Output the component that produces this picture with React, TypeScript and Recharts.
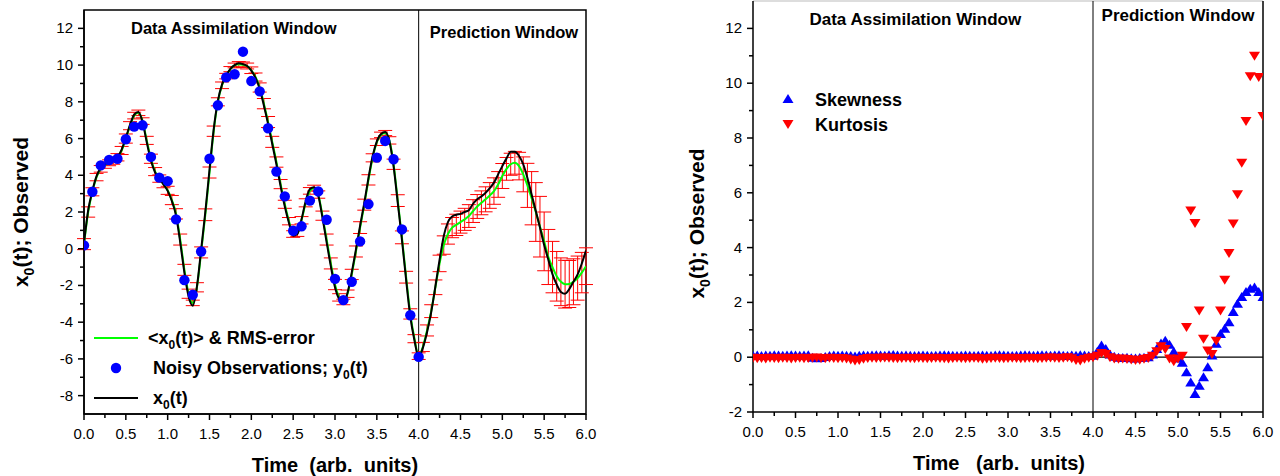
import {
  ComposedChart,
  Line,
  Scatter,
  XAxis,
  YAxis,
  ErrorBar,
  ReferenceLine,
  ReferenceArea,
  ReferenceDot,
  Legend,
} from "recharts"

const FONT = "'Liberation Sans', Arial, Helvetica, sans-serif"

// time grid (arb. units), one point every 0.05
const times = [
  0, 0.05, 0.1, 0.15, 0.2, 0.25, 0.3, 0.35, 0.4, 0.45, 0.5, 0.55, 0.6, 0.65, 0.7, 0.75, 0.8, 0.85, 0.9, 0.95,
  1, 1.05, 1.1, 1.15, 1.2, 1.25, 1.3, 1.35, 1.4, 1.45, 1.5, 1.55, 1.6, 1.65, 1.7, 1.75, 1.8, 1.85, 1.9, 1.95,
  2, 2.05, 2.1, 2.15, 2.2, 2.25, 2.3, 2.35, 2.4, 2.45, 2.5, 2.55, 2.6, 2.65, 2.7, 2.75, 2.8, 2.85, 2.9, 2.95,
  3, 3.05, 3.1, 3.15, 3.2, 3.25, 3.3, 3.35, 3.4, 3.45, 3.5, 3.55, 3.6, 3.65, 3.7, 3.75, 3.8, 3.85, 3.9, 3.95,
  4, 4.05, 4.1, 4.15, 4.2, 4.25, 4.3, 4.35, 4.4, 4.45, 4.5, 4.55, 4.6, 4.65, 4.7, 4.75, 4.8, 4.85, 4.9, 4.95,
  5, 5.05, 5.1, 5.15, 5.2, 5.25, 5.3, 5.35, 5.4, 5.45, 5.5, 5.55, 5.6, 5.65, 5.7, 5.75, 5.8, 5.85, 5.9, 5.95,
  6,
]

// true state x0(t)
const truthX0 = [
  0.3, 2.1, 3.15, 3.95, 4.4, 4.6, 4.7, 4.8, 5.0, 5.4, 6.05, 6.75, 7.3, 7.45, 6.9, 5.8, 4.8, 4.15, 3.8, 3.5,
  3.15, 2.6, 1.8, 0.35, -1.3, -2.6, -3.1, -2.05, -0.05, 2.0, 4.3, 6.5, 8.05, 8.95, 9.45, 9.8, 10.0, 10.1, 10.05, 9.95,
  9.7, 9.3, 8.7, 7.8, 6.8, 5.7, 4.6, 3.4, 2.3, 1.4, 0.7, 0.8, 1.6, 2.6, 3.25, 3.35, 2.9, 1.7, 0.35, -0.95,
  -2.1, -2.75, -2.95, -2.4, -1.3, -0.05, 1.25, 2.5, 3.85, 5.05, 5.85, 6.25, 6.35, 5.85, 4.5, 2.5, 0.5, -1.7, -3.7, -5.0,
  -5.9, -5.4, -4.55, -3.45, -2.05, -0.6, 0.7, 1.45, 1.75, 1.85, 1.9, 2.0, 2.1, 2.45, 2.7, 2.85, 3.05, 3.3, 3.6, 4.05,
  4.5, 4.92, 5.28, 5.28, 5.05, 4.6, 3.85, 2.95, 2.05, 1.15, 0.2, -0.6, -1.4, -1.95, -2.35, -2.45, -2.2, -1.8, -1.4, -0.8,
  -0.1,
]

// ensemble mean <x0(t)>
const meanX0 = [
  0.25, 2.0, 3.1, 3.9, 4.35, 4.55, 4.68, 4.78, 4.98, 5.35, 6.0, 6.7, 7.25, 7.4, 6.95, 5.9, 4.9, 4.2, 3.82, 3.52,
  3.18, 2.65, 1.9, 0.5, -1.15, -2.45, -2.95, -2.1, -0.2, 1.85, 4.15, 6.4, 8.0, 8.9, 9.4, 9.78, 9.98, 10.05, 10.02, 9.95,
  9.72, 9.35, 8.78, 7.9, 6.9, 5.82, 4.72, 3.52, 2.42, 1.5, 0.8, 0.85, 1.55, 2.5, 3.15, 3.3, 2.95, 1.8, 0.5, -0.8,
  -1.95, -2.65, -2.9, -2.45, -1.4, -0.15, 1.15, 2.4, 3.75, 4.95, 5.8, 6.2, 6.3, 5.9, 4.6, 2.62, 0.62, -1.55, -3.55, -4.9,
  -5.85, -5.35, -4.45, -3.4, -2.1, -0.8, 0.2, 0.8, 1.15, 1.3, 1.45, 1.6, 1.78, 2.05, 2.3, 2.5, 2.69, 2.9, 3.14, 3.5,
  3.96, 4.35, 4.6, 4.68, 4.5, 4.05, 3.45, 2.75, 2.0, 1.2, 0.4, -0.45, -1.0, -1.5, -1.8, -1.93, -1.92, -1.8, -1.6, -1.3,
  -0.95,
]

// RMS error of the ensemble
const rmsX0 = [
  0.3, 0.28, 0.22, 0.2, 0.18, 0.17, 0.16, 0.18, 0.2, 0.22, 0.25, 0.22, 0.18, 0.15, 0.18, 0.22, 0.25, 0.22, 0.2, 0.2,
  0.22, 0.25, 0.28, 0.3, 0.3, 0.25, 0.15, 0.25, 0.3, 0.32, 0.3, 0.28, 0.22, 0.18, 0.15, 0.14, 0.13, 0.14, 0.15, 0.16,
  0.18, 0.22, 0.25, 0.28, 0.3, 0.3, 0.28, 0.25, 0.22, 0.2, 0.18, 0.18, 0.2, 0.22, 0.18, 0.16, 0.2, 0.25, 0.3, 0.3,
  0.28, 0.2, 0.15, 0.2, 0.28, 0.3, 0.32, 0.3, 0.28, 0.22, 0.18, 0.15, 0.14, 0.2, 0.28, 0.32, 0.35, 0.32, 0.28, 0.22,
  0.18, 0.25, 0.3, 0.35, 0.4, 0.45, 0.5, 0.55, 0.55, 0.58, 0.6, 0.6, 0.62, 0.62, 0.65, 0.65, 0.68, 0.7, 0.72, 0.7,
  0.68, 0.62, 0.6, 0.62, 0.75, 0.95, 1.2, 1.45, 1.6, 1.65, 1.6, 1.5, 1.4, 1.35, 1.3, 1.3, 1.28, 1.25, 1.2, 1.1,
  1.0,
]

// noisy observations y0(t), every 0.1 inside the assimilation window
const obsTimes = [
  0, 0.1, 0.2, 0.3, 0.4, 0.5, 0.6, 0.7, 0.8, 0.9, 1, 1.1, 1.2, 1.3, 1.4, 1.5, 1.6, 1.7, 1.8, 1.9,
  2, 2.1, 2.2, 2.3, 2.4, 2.5, 2.6, 2.7, 2.8, 2.9, 3, 3.1, 3.2, 3.3, 3.4, 3.5, 3.6, 3.7, 3.8, 3.9, 4,
]
const obsY0 = [
  0.18, 3.1, 4.54, 4.83, 4.9, 5.96, 6.65, 6.72, 5.0, 3.87, 3.68, 1.6, -1.71, -2.51, -0.15, 4.9, 7.81, 9.33, 9.5, 10.73,
  9.13, 8.57, 6.56, 4.2, 2.85, 0.98, 1.22, 2.62, 3.12, 1.58, -1.64, -2.8, -1.8, 0.4, 2.43, 4.96, 5.87, 4.87, 1.05, -3.62,
  -5.89,
]

// higher moments of the ensemble
const skewness = [
  0.05, 0.06, 0.04, 0.06, 0.05, 0.07, 0.06, 0.05, 0.06, 0.07, 0.06, 0.05, 0.06, 0.07, -0.02, -0.04, -0.03, 0.01, 0.04, 0.06,
  0.05, 0.06, 0.05, 0.04, 0.03, 0.05, 0.06, 0.05, 0.06, 0.07, 0.06, 0.05, 0.07, 0.08, 0.06, 0.05, 0.06, 0.05, 0.04, 0.05,
  0.06, 0.05, 0.04, 0.05, 0.06, 0.07, 0.06, 0.05, 0.04, 0.05, 0.06, 0.05, 0.04, 0.05, 0.06, 0.05, 0.04, 0.06, 0.07, 0.06,
  0.05, 0.04, 0.05, 0.06, 0.07, 0.06, 0.05, 0.06, 0.07, 0.06, 0.05, 0.06, 0.07, 0.05, 0.04, 0.06, 0.05, 0.07, 0.06, 0.04,
  0.05, 0.2, 0.43, 0.3, 0.1, 0.02, -0.02, -0.03, -0.02, -0.04, -0.05, -0.03, -0.02, 0.0, 0.1, 0.3, 0.5, 0.6, 0.45, 0.2,
  -0.05, -0.2, -0.55, -0.92, -1.34, -1.04, -0.73, -0.37, 0.06, 0.49, 0.85, 1.04, 1.28, 1.65, 1.95, 2.2, 2.38, 2.5, 2.54, 2.38,
  2.2,
]
const kurtosis = [
  -0.02, -0.04, -0.03, -0.05, -0.02, -0.03, -0.04, -0.02, -0.03, -0.05, -0.03, -0.02, -0.04, -0.03, -0.02, -0.01, -0.03, -0.04, -0.02, -0.03,
  -0.04, -0.03, -0.05, -0.08, -0.12, -0.1, -0.06, -0.03, -0.02, -0.03, -0.02, -0.01, -0.02, -0.03, -0.04, -0.03, -0.02, -0.03, -0.04, -0.02,
  -0.03, -0.04, -0.03, -0.02, -0.03, -0.04, -0.05, -0.03, -0.02, -0.03, -0.04, -0.03, -0.02, -0.03, -0.06, -0.05, -0.03, -0.02, -0.03, -0.04,
  -0.03, -0.02, -0.03, -0.04, -0.03, -0.02, -0.03, -0.04, -0.03, -0.02, -0.01, -0.02, -0.03, -0.02, 0.0, -0.04, -0.1, -0.12, -0.06, -0.02,
  0.0, 0.05, 0.15, 0.12, 0.0, -0.05, -0.06, -0.05, -0.07, -0.08, -0.1, -0.09, -0.06, -0.03, 0.05, 0.22, 0.4, 0.3, -0.05, -0.15,
  -0.05, 0.05, 1.1, 5.35, 4.9, 1.7, 0.67, 0.24, 0.12, 0.6, 1.7, 2.83, 3.8, 4.88, 5.95, 7.1, 8.62, 10.25, 11.0, 10.23,
  8.8,
]

const xTicks = [0, 0.25, 0.5, 0.75, 1, 1.25, 1.5, 1.75, 2, 2.25, 2.5, 2.75, 3, 3.25, 3.5, 3.75, 4, 4.25, 4.5, 4.75, 5, 5.25, 5.5, 5.75, 6]
const leftYTicks = [-8, -7, -6, -5, -4, -3, -2, -1, 0, 1, 2, 3, 4, 5, 6, 7, 8, 9, 10, 11, 12]
const rightYTicks = [-2, -1, 0, 1, 2, 3, 4, 5, 6, 7, 8, 9, 10, 11, 12]

const stateData = times.map((t, i) => ({ t, truth: truthX0[i], mean: meanX0[i], rms: rmsX0[i] }))
const obsData = obsTimes.map((t, i) => ({ t, obs: obsY0[i] }))
const momentData = times.map((t, i) => ({ t, skew: skewness[i], kurt: kurtosis[i] }))

const textStyle = { fontFamily: FONT, fill: "#000" }

function XTick({ x, y, payload }: any) {
  const v = payload.value
  const major = Math.abs(v * 2 - Math.round(v * 2)) < 1e-6
  return (
    <g>
      <line x1={x} x2={x} y1={y} y2={y + (major ? 6 : 4)} stroke="#000" strokeWidth={1.5} />
      {major && (
        <text x={x} y={y + 25} textAnchor="middle" fontSize={15} {...textStyle}>
          {v.toFixed(1)}
        </text>
      )}
    </g>
  )
}

function YTick({ x, y, payload }: any) {
  const v = payload.value
  const major = v % 2 === 0
  return (
    <g>
      <line x1={x - (major ? 6 : 4)} x2={x} y1={y} y2={y} stroke="#000" strokeWidth={1.5} />
      {major && (
        <text x={x - 11} y={y + 5} textAnchor="end" fontSize={15} {...textStyle}>
          {v}
        </text>
      )}
    </g>
  )
}

function YTitle({ viewBox, dx, dy }: any) {
  const cx = viewBox.x + dx
  const cy = viewBox.y + viewBox.height / 2 + dy
  return (
    <text transform={`rotate(-90 ${cx} ${cy})`} x={cx} y={cy} textAnchor="middle" fontSize={21} fontWeight="bold" {...textStyle}>
      <tspan>x</tspan>
      <tspan dy={6} fontSize={14}>0</tspan>
      <tspan dy={-6}>(t); Observed</tspan>
    </text>
  )
}

function XTitle({ viewBox, text, dx }: any) {
  return (
    <text x={viewBox.x + viewBox.width / 2 + dx} y={viewBox.y + 58} textAnchor="middle" fontSize={20} fontWeight="bold" {...textStyle}>
      {text}
    </text>
  )
}

function TriangleUp({ cx, cy, fill }: any) {
  return <polygon points={`${cx},${cy - 5} ${cx - 5.5},${cy + 4} ${cx + 5.5},${cy + 4}`} fill={fill} />
}

function TriangleDown({ cx, cy, fill }: any) {
  return <polygon points={`${cx - 5.5},${cy - 4} ${cx + 5.5},${cy - 4} ${cx},${cy + 5}`} fill={fill} />
}

function StateLegend() {
  const t = { fontSize: 18, fontWeight: "bold" as const, ...textStyle }
  return (
    <svg width={300} height={92} style={{ overflow: "visible" }}>
      <line x1={4} x2={48} y1={16} y2={16} stroke="#00ff00" strokeWidth={2} />
      <text x={58} y={22} {...t}>
        {"<x"}
        <tspan dy={5} fontSize={12}>0</tspan>
        <tspan dy={-5}>{"(t)> & RMS-error"}</tspan>
      </text>
      <circle cx={26} cy={46} r={5.2} fill="#0000ff" />
      <text x={63} y={52} {...t}>
        {"Noisy Observations; y"}
        <tspan dy={5} fontSize={12}>0</tspan>
        <tspan dy={-5}>(t)</tspan>
      </text>
      <line x1={4} x2={48} y1={76} y2={76} stroke="#000" strokeWidth={2} />
      <text x={63} y={82} {...t}>
        x<tspan dy={5} fontSize={12}>0</tspan>
        <tspan dy={-5}>(t)</tspan>
      </text>
    </svg>
  )
}

function MomentLegend() {
  const t = { fontSize: 18, fontWeight: "bold" as const, ...textStyle }
  return (
    <svg width={200} height={52} style={{ overflow: "visible" }}>
      <TriangleUp cx={18} cy={15} fill="#0000ff" />
      <text x={45} y={21.5} {...t}>Skewness</text>
      <TriangleDown cx={18} cy={40} fill="#ff0000" />
      <text x={45} y={46.5} {...t}>Kurtosis</text>
    </svg>
  )
}

const noteLabel = (value: string, size: number) => ({
  value,
  position: "center" as const,
  fontSize: size,
  fontWeight: "bold",
  fontFamily: FONT,
  fill: "#000",
})

function StateChart() {
  return (
    <ComposedChart width={640} height={476} data={stateData} margin={{ top: 10, right: 54, bottom: 0, left: 0 }}>
      <XAxis
        dataKey="t"
        type="number"
        domain={[0, 6]}
        allowDataOverflow
        ticks={xTicks}
        interval={0}
        tickSize={0}
        tickMargin={0}
        tickLine={false}
        tick={<XTick />}
        height={62}
        axisLine={{ stroke: "#000", strokeWidth: 1.5 }}
        label={{ content: (p: any) => <XTitle viewBox={p.viewBox} dx={0} text={"Time\u00a0\u00a0(arb.\u00a0\u00a0units)"} /> }}
      />
      <YAxis
        type="number"
        domain={[-9, 13]}
        allowDataOverflow
        ticks={leftYTicks}
        interval={0}
        tickSize={0}
        tickMargin={0}
        tickLine={false}
        tick={<YTick />}
        width={84}
        axisLine={{ stroke: "#000", strokeWidth: 1.5 }}
        label={{ content: (p: any) => <YTitle viewBox={p.viewBox} dx={28} dy={0} /> }}
      />
      <ReferenceArea x1={0} x2={6} y1={-9} y2={13} fill="none" fillOpacity={0} stroke="#000" strokeWidth={1.5} />
      <ReferenceLine x={4} stroke="#000" strokeWidth={1} />
      <ReferenceDot x={1.79} y={12.0} r={0} fill="none" stroke="none" label={noteLabel("Data Assimilation Window", 16.5)} />
      <ReferenceDot x={5.02} y={11.8} r={0} fill="none" stroke="none" label={noteLabel("Prediction Window", 16.5)} />
      <Line
        type="monotone"
        dataKey="mean"
        stroke="#00ff00"
        strokeWidth={2}
        dot={false}
        activeDot={false}
        isAnimationActive={false}
      >
        <ErrorBar dataKey="rms" direction="y" width={7} stroke="#ff0000" strokeWidth={1} isAnimationActive={false} />
      </Line>
      <Line
        type="monotone"
        dataKey="truth"
        stroke="#000"
        strokeWidth={2}
        dot={false}
        activeDot={false}
        isAnimationActive={false}
      />
      <Scatter
        data={obsData}
        dataKey="obs"
        fill="#0000ff"
        isAnimationActive={false}
        shape={(p: any) => <circle cx={p.cx} cy={p.cy} r={5.2} fill="#0000ff" />}
      />
      <Legend
        layout="horizontal"
        verticalAlign="middle"
        align="center"
        content={() => <StateLegend />}
        wrapperStyle={{ left: 90, top: 322, width: 300, height: 92 }}
      />
    </ComposedChart>
  )
}

function MomentChart() {
  return (
    <ComposedChart width={640} height={476} data={momentData} margin={{ top: 1, right: 17, bottom: 0, left: 0 }}>
      <XAxis
        dataKey="t"
        type="number"
        domain={[0, 6]}
        allowDataOverflow
        ticks={xTicks}
        interval={0}
        tickSize={0}
        tickMargin={0}
        tickLine={false}
        tick={<XTick />}
        height={64}
        axisLine={{ stroke: "#000", strokeWidth: 1.5 }}
        label={{ content: (p: any) => <XTitle viewBox={p.viewBox} dx={-9} text={"Time\u00a0\u00a0\u00a0(arb.\u00a0\u00a0units)"} /> }}
      />
      <YAxis
        type="number"
        domain={[-2, 13]}
        allowDataOverflow
        ticks={rightYTicks}
        interval={0}
        tickSize={0}
        tickMargin={0}
        tickLine={false}
        tick={<YTick />}
        width={113}
        axisLine={{ stroke: "#000", strokeWidth: 1.5 }}
        label={{ content: (p: any) => <YTitle viewBox={p.viewBox} dx={64} dy={17} /> }}
      />
      <ReferenceLine y={13} stroke="#bbb" strokeWidth={1} />
      <ReferenceLine x={6} stroke="#000" strokeWidth={1.5} />
      <ReferenceLine x={4} stroke="#000" strokeWidth={1} />
      <ReferenceLine segment={[{ x: 4, y: 0 }, { x: 6, y: 0 }]} stroke="#000" strokeWidth={1.2} />
      <ReferenceDot x={1.91} y={12.33} r={0} fill="none" stroke="none" label={noteLabel("Data Assimilation Window", 17)} />
      <ReferenceDot x={5.0} y={12.49} r={0} fill="none" stroke="none" label={noteLabel("Prediction Window", 17)} />
      <Scatter
        data={momentData}
        dataKey="skew"
        fill="#0000ff"
        isAnimationActive={false}
        shape={(p: any) => <TriangleUp cx={p.cx} cy={p.cy} fill="#0000ff" />}
      />
      <Scatter
        data={momentData}
        dataKey="kurt"
        fill="#ff0000"
        isAnimationActive={false}
        shape={(p: any) => <TriangleDown cx={p.cx} cy={p.cy} fill="#ff0000" />}
      />
      <Legend
        layout="horizontal"
        verticalAlign="middle"
        align="center"
        content={() => <MomentLegend />}
        wrapperStyle={{ left: 130, top: 84, width: 200, height: 52 }}
      />
    </ComposedChart>
  )
}

export default function App() {
  return (
    <div style={{ position: "absolute", left: 0, top: 0, width: 1280, height: 476, background: "#fff" }}>
      <div style={{ position: "absolute", left: 0, top: 0 }}>
        <StateChart />
      </div>
      <div style={{ position: "absolute", left: 640, top: 0 }}>
        <MomentChart />
      </div>
    </div>
  )
}
